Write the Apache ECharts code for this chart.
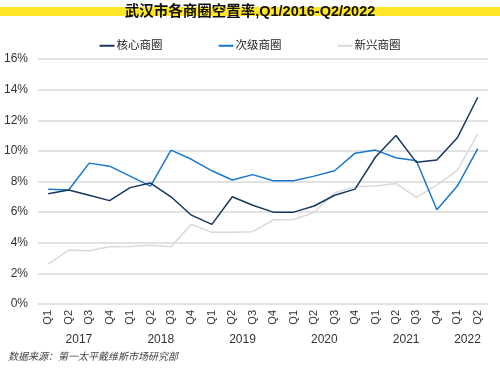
<!DOCTYPE html>
<html>
<head>
<meta charset="utf-8">
<script src="https://cdn.jsdelivr.net/npm/echarts@6/dist/echarts.min.js"></script>
<style>html,body{margin:0;padding:0;background:#fff}#c{width:500px;height:368px}</style>
</head>
<body>
<div id="c"></div>
<script>
const quarters = ['Q1','Q2','Q3','Q4','Q1','Q2','Q3','Q4','Q1','Q2','Q3','Q4','Q1','Q2','Q3','Q4','Q1','Q2','Q3','Q4','Q1','Q2'];
const years = ['2017','2018','2019','2020','2021','2022'];
const yearQuarterCounts = [4,4,4,4,4,2];
const coreSeries = [7.2,7.45,7.1,6.75,7.6,7.9,7.0,5.8,5.2,7.0,6.45,6.0,6.0,6.4,7.1,7.5,9.6,11.0,9.25,9.4,10.85,13.5];
const secondarySeries = [7.5,7.45,9.2,9.0,8.35,7.7,10.05,9.45,8.7,8.1,8.45,8.05,8.05,8.35,8.7,9.85,10.05,9.55,9.35,6.15,7.7,10.15];
const emergingSeries = [2.6,3.52,3.48,3.74,3.75,3.83,3.74,5.2,4.68,4.68,4.72,5.5,5.52,5.98,7.26,7.65,7.7,7.87,6.96,7.76,8.74,11.1];
const seriesNames = ['核心商圈','次级商圈','新兴商圈'];
const sourceText = '数据来源：第一太平戴维斯市场研究部';

// build half-step year axis (positions between quarters)
const halfData = [];
for (let i = 0; i <= quarters.length * 2; i++) halfData.push('');
let start = 0;
years.forEach((y, k) => {
  const centre = start * 2 + yearQuarterCounts[k];
  halfData[centre] = y;
  start += yearQuarterCounts[k];
});

const font = '"Liberation Sans", "Noto Sans CJK SC", sans-serif';
const chart = echarts.init(document.getElementById('c'));
chart.setOption({
  animation: false,
  textStyle: { fontFamily: font },
  graphic: [
    { type: 'rect', left: 0, top: 7, shape: { width: 500, height: 9 }, style: { fill: '#FFE626' }, z: 0 },
    { type: 'text', left: 8, top: 351, style: { text: sourceText, fill: '#444', font: 'italic 10px "Noto Sans CJK SC", sans-serif' } }
  ],
  title: {
    text: '武汉市各商圈空置率,Q1/2016-Q2/2022',
    left: 'center', top: 0,
    textStyle: { fontSize: 14.5, fontWeight: 'bold', color: '#111', fontFamily: font }
  },
  legend: {
    top: 35, left: 'center', itemGap: 56, itemWidth: 15, itemHeight: 2,
    icon: 'rect',
    textStyle: { fontSize: 11.5, color: '#222', padding: [0,0,0,-3] },
    data: seriesNames
  },
  grid: { left: 38, right: 12, top: 59, bottom: 64, containLabel: false },
  xAxis: [
    {
      type: 'category', data: quarters, boundaryGap: true,
      axisLine: { show: false }, axisTick: { show: false },
      axisLabel: { interval: 0, rotate: 90, fontSize: 11, color: '#333', margin: 6 }
    },
    {
      type: 'category', data: halfData, boundaryGap: false, position: 'bottom',
      axisLine: { show: false }, axisTick: { show: false },
      axisLabel: { interval: 0, fontSize: 12, color: '#333', margin: 30 }
    }
  ],
  yAxis: {
    type: 'value', min: 0, max: 16, interval: 2,
    axisLine: { show: false }, axisTick: { show: false },
    axisLabel: { formatter: v => v + '%', fontSize: 12, color: '#333', margin: 10 },
    splitLine: { lineStyle: { color: '#D9D9D9', width: 1.5 } }
  },
  series: [
    { name: seriesNames[2], type: 'line', data: emergingSeries, symbol: 'none', lineStyle: { color: '#D9D9D9', width: 1.5 }, itemStyle: { color: '#D9D9D9' }, z: 1 },
    { name: seriesNames[1], type: 'line', data: secondarySeries, symbol: 'none', lineStyle: { color: '#1878CC', width: 1.5 }, itemStyle: { color: '#1878CC' }, z: 2 },
    { name: seriesNames[0], type: 'line', data: coreSeries, symbol: 'none', lineStyle: { color: '#17375E', width: 1.5 }, itemStyle: { color: '#17375E' }, z: 3 }
  ]
});
</script>
</body>
</html>
